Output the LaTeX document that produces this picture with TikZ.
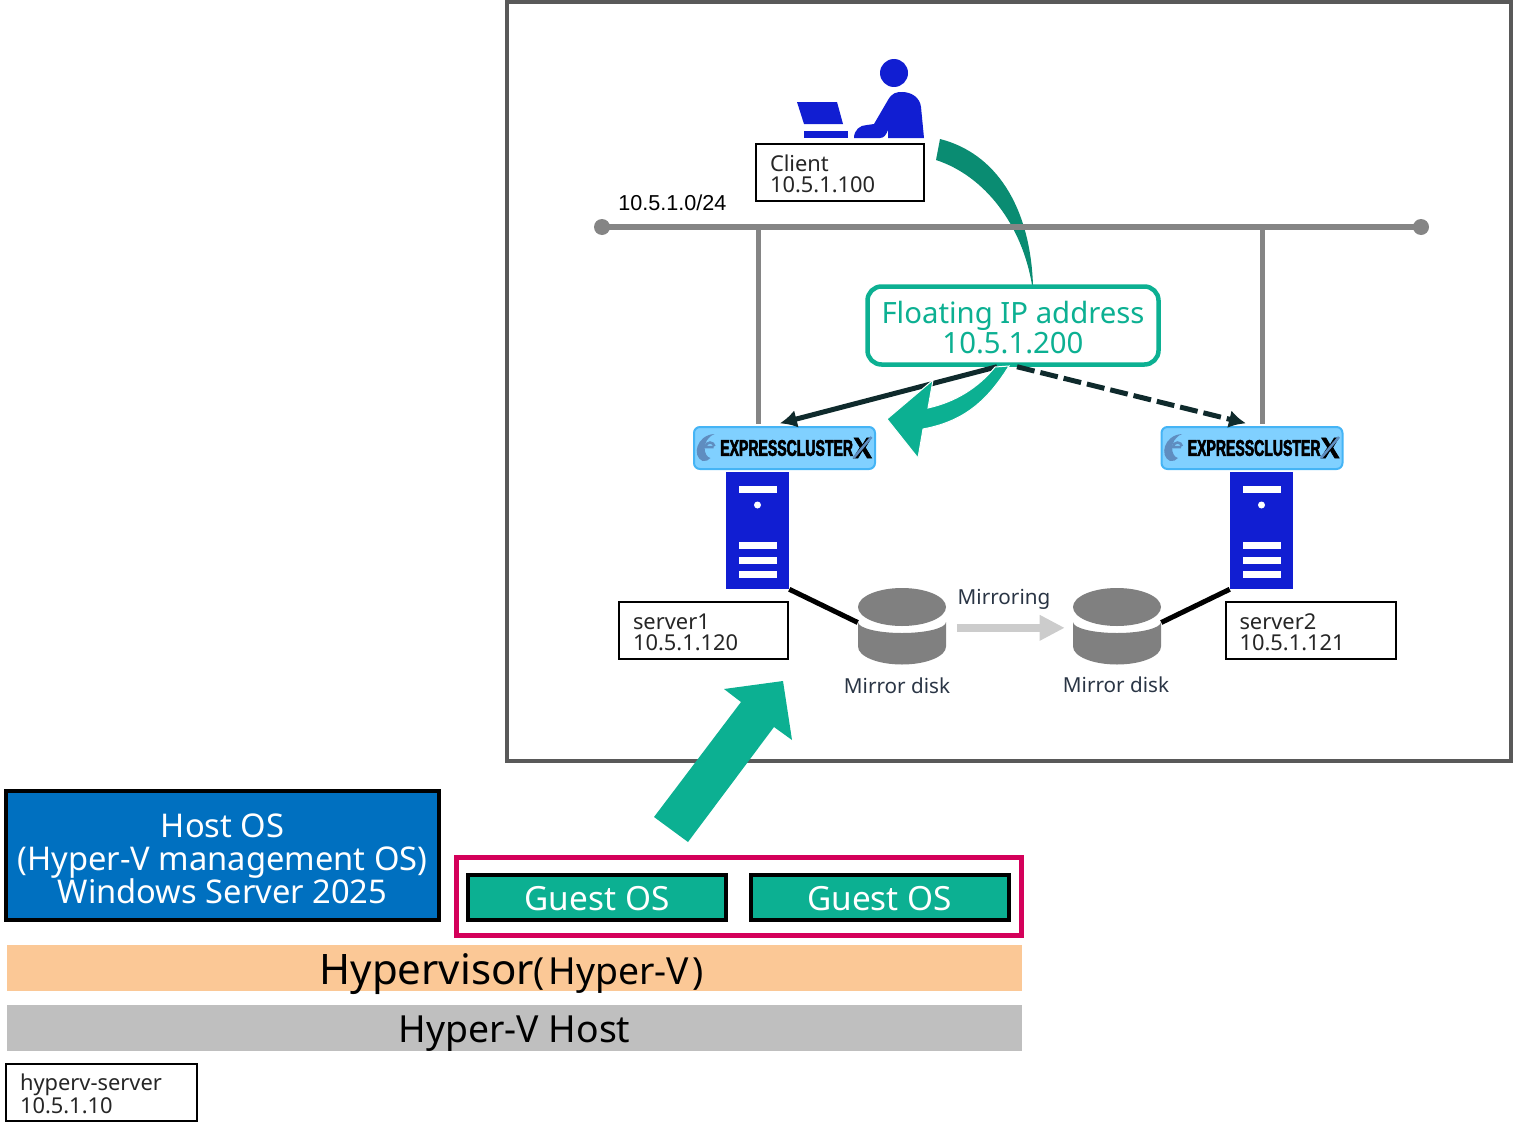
\documentclass[tikz,border=0pt]{standalone}
\usepackage{fontspec}
\usepackage{xcolor}
\setmainfont{Noto Sans}
\newfontfamily\netfont{Liberation Sans}
\newfontfamily\logofont[FakeStretch=0.62,FakeBold=2.5]{Liberation Sans}
\newfontfamily\logoxfont[FakeStretch=0.95,FakeBold=2.5]{Liberation Sans}
\usetikzlibrary{arrows.meta,calc,positioning}
\newcommand{\px}{0.75pt}
% baseline at the node centre, lowered by #1
\newcommand{\lowered}[2]{\raisebox{-#1}[0pt][0pt]{#2}}
\definecolor{teal1}{HTML}{0CB092}
\definecolor{teal2}{HTML}{0A8C72}
\definecolor{iconblue}{HTML}{111ED2}
\definecolor{hostblue}{HTML}{0070C0}
\definecolor{frame1}{HTML}{595959}
\definecolor{bus1}{HTML}{858585}
\definecolor{crimson1}{HTML}{D4005A}
\definecolor{orange1}{HTML}{FBC896}
\definecolor{hostgray}{HTML}{BFBFBF}
\definecolor{logofill}{HTML}{80D0FF}
\definecolor{logoline}{HTML}{45B4F5}
\definecolor{inkdark}{HTML}{0F2A2C}
\definecolor{disklabel}{HTML}{2A3545}
\definecolor{emblem}{HTML}{5F8DC0}
\tikzset{
  labelbox/.style={draw=black,line width=2*\px,fill=white,inner xsep=14*\px,inner ysep=0pt,
    align=left,text=black!85,font=\fontsize{16.4}{15.75}\selectfont,
    execute at begin node={\rule{0pt}{15pt}}},
  guestbox/.style={draw=black,line width=4*\px,fill=teal1,text=white,minimum width=258*\px,
    minimum height=45*\px,inner sep=0pt,font=\fontsize{25}{28}\selectfont},
  barbox/.style={minimum width=1015*\px,minimum height=46*\px,inner sep=0pt,text=black},
  logobox/.style={draw=logoline,fill=logofill,line width=2*\px,rounded corners=6*\px,
    minimum width=181*\px,minimum height=42*\px,inner sep=0pt},
  serverbox/.style={fill=iconblue,minimum width=63*\px,minimum height=117*\px,inner sep=0pt},
  diskbox/.style={minimum width=88*\px,minimum height=77*\px,inner sep=0pt},
  disklbl/.style={text=disklabel,inner sep=0pt,font=\fontsize{15.5}{18}\selectfont},
  wire/.style={line width=5*\px,black},
  link/.style={line width=5*\px,inkdark,-{Latex[length=17*\px,width=18*\px]}},
}
% server tower with its slits
\newcommand{\servericon}[3]{
  \node[serverbox] (#1) at (#2,#3) {};
  \fill[white] (#2-19,#3-44.5) rectangle (#2+19,#3-37.5);
  \fill[white] (#2,#3-25.5) circle (3.5);
  \foreach \sy in {11.5,26,40.5}
    \fill[white] (#2-19,#3+\sy) rectangle (#2+19,#3+\sy+7);
}
% disk, top and body
\newcommand{\diskicon}[3]{
  \node[diskbox] (#1) at (#2,#3) {};
  \fill[gray] (#2,#3-19.5) ellipse (44 and 19);
  \fill[gray] (#2-44,#3-4.5) arc[start angle=180,end angle=0,x radius=44,y radius=11]
    -- (#2+44,#3+20) arc[start angle=0,end angle=180,x radius=44,y radius=18] -- cycle;
}
% product logo
\newcommand{\eclogo}[3]{
  \node[logobox] (#1) at (#2,#3) {};
  \fill[emblem] (#2-70,#3-14) .. controls (#2-88,#3-13) and (#2-93,#3+8) .. (#2-82,#3+13)
    .. controls (#2-79,#3+14) and (#2-76,#3+12) .. (#2-74,#3+10)
    .. controls (#2-81,#3+9) and (#2-84,#3-8) .. cycle;
  \draw[emblem,line width=2.5*\px] (#2-71,#3-1) -- (#2-79,#3-1) arc[start angle=180,end angle=350,radius=4.5];
  \node[inner sep=0pt,anchor=west] (#1txt) at (#2-64.5,#3) {\logofont\bfseries\fontsize{17}{17}\selectfont EXPRESSCLUSTER};
  \node[inner sep=0pt,anchor=west] (#1x) at (#2+68.5,#3) {\logoxfont\bfseries\fontsize{22}{22}\selectfont X};
  \draw[emblem,line width=2.5*\px] (#2+69,#3+10) -- (#2+87,#3-11);
}
\begin{document}
\begin{tikzpicture}[x=0.75pt,y=-0.75pt]
  \useasboundingbox (0,0) rectangle (1513,1124);
  % outer frame
  \draw[frame1,line width=4*\px] (507,2) rectangle (1511,761);
  % curve from the client
  \fill[teal2] (940,139) .. controls (995,153) and (1030,205) .. (1033,285)
    -- (1032,285) .. controls (1022,225) and (985,176) .. (936,160) -- cycle;
  % network
  \coordinate (busL) at (602,227);
  \coordinate (busR) at (1421,227);
  \eclogo{logoA}{784.5}{448}
  \eclogo{logoB}{1252}{448}
  \draw[bus1,line width=5*\px] (758.5,227) -- (758.5,424);
  \draw[bus1,line width=5*\px] (1262,227) -- (1262,424);
  \draw[bus1,line width=6*\px] (busL) -- (busR);
  \fill[bus1] (busL) circle (8) (busR) circle (8);
  \node[inner sep=0pt,anchor=west,font=\netfont\fontsize{16.2}{18}\selectfont] (netlbl) at (618,203) {10.5.1.0/24};
  % client
  \fill[iconblue] (894,73) circle (14);
  \fill[iconblue] (854,138) .. controls (854,130) and (860,125) .. (867,125) -- (874,124) -- (888,100)
    .. controls (892,93) and (896,92) .. (902,92) .. controls (912,92) and (920,98) .. (921,107)
    -- (924,138) -- (888,138) -- (888,130) .. controls (886,135) and (884,138) .. (880,138) -- cycle;
  \fill[iconblue] (797,102) -- (837,102) -- (843,124) -- (804,124) -- cycle;
  \fill[iconblue] (804,131) rectangle (848,138);
  \node[labelbox,minimum width=168*\px,minimum height=57*\px,text width=140*\px] (client) at (840,172.5) {Client\\10.5.1.100};
  % floating ip
  \node[draw=teal1,line width=4.5*\px,rounded corners=14*\px,fill=white,text=teal1,align=center,inner sep=0pt,
    minimum width=291*\px,minimum height=78*\px,font=\fontsize{22}{20.6}\selectfont] (fip) at (1013,325.5)
    {\rule{0pt}{20pt}Floating IP address\\10.5.1.200};
  % links to the servers
  \draw[link] ([xshift=-12pt]fip.south) -- ([xshift=-3.5pt,yshift=2pt]logoA.north);
  \draw[link,dash pattern=on 18*\px off 6*\px] ([xshift=3pt]fip.south) -- ([xshift=-4.5pt,yshift=2pt]logoB.north);
  \fill[teal1,draw=white,line width=1*\px] (1009,366) .. controls (985,405) and (960,422) .. (923,429) -- (918,458) -- (887,419) -- (933,380)
    -- (928,408) .. controls (955,402) and (978,388) .. (995,367) -- cycle;
  % servers and disks
  \servericon{serverA}{757.5}{530.5}
  \servericon{serverB}{1261.5}{530.5}
  \diskicon{diskA}{902}{626.5}
  \diskicon{diskB}{1117}{626.5}
  \draw[wire] (serverA.south east) -- ([yshift=3pt]diskA.west);
  \draw[wire] (serverB.south west) -- ([yshift=3pt]diskB.east);
  \draw[black!20,line width=8*\px,-{Triangle[length=25*\px,width=24*\px]}] ([xshift=8pt,yshift=-1pt]diskA.east) -- ([xshift=-6pt,yshift=-1pt]diskB.west);
  \node[disklbl] (mirror) at (1004,599) {Mirroring};
  \node[disklbl] (lblA) at (897,686) {Mirror disk};
  \node[disklbl] (lblB) at (1116,685) {Mirror disk};
  \node[labelbox,minimum width=169*\px,minimum height=57*\px,text width=141*\px] (srvA) at (703.5,630.5) {server1\\10.5.1.120};
  \node[labelbox,minimum width=170*\px,minimum height=57*\px,text width=142*\px] (srvB) at (1310.5,630.5) {server2\\10.5.1.121};
  % big arrow
  \fill[teal1] (654,817) -- (688,842) -- (774,727) -- (792,740) -- (783,681) -- (724,689) -- (741,702) -- cycle;
  % hyper-v stack
  \node[draw=black,line width=4*\px,fill=hostblue,text=white,align=center,inner sep=0pt,minimum width=433*\px,
    minimum height=129*\px,font=\fontsize{24.5}{25}\selectfont] (host) at (222.5,855.5)
    {\rule{0pt}{22.5pt}Host OS\\(Hyper-V management OS)\\Windows Server 2025};
  \node[draw=crimson1,line width=5*\px,minimum width=565*\px,minimum height=78*\px,inner sep=0pt] (guests) at (738.5,896) {};
  \node[guestbox] (guestA) at (597,897.5) {\lowered{9.5pt}{Guest OS}};
  \node[guestbox] (guestB) at (879.5,897.5) {\lowered{9.5pt}{Guest OS}};
  \node[barbox,fill=orange1] (hv) at (514.5,968)
    {\lowered{12.5pt}{\fontsize{31.5}{30}\selectfont Hypervisor\fontsize{28}{28}\selectfont (\hspace{2.5pt}Hyper-V\hspace{2.5pt})\hspace{4.5pt}}};
  \node[barbox,fill=hostgray,font=\fontsize{28}{30}\selectfont] (hvhost) at (514.5,1028) {\lowered{11pt}{Hyper-V Host}};
  \node[labelbox,minimum width=191*\px,minimum height=57*\px,text width=163*\px] (hvsrv) at (101.5,1092) {hyperv-server\\10.5.1.10};
\end{tikzpicture}
\end{document}
